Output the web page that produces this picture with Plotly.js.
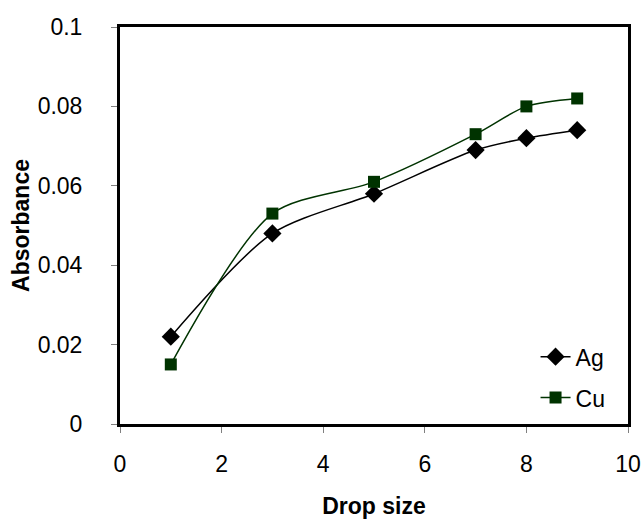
<!DOCTYPE html>
<html>
<head>
<meta charset="utf-8">
<script src="https://cdn.plot.ly/plotly-3.0.1.min.js"></script>
<style>html,body{margin:0;padding:0;background:#fff;}#chart{width:641px;height:519px;}</style>
</head>
<body>
<div id="chart"></div>
<script>
const dropSize = [1, 3, 5, 7, 8, 9];
const agValues = [0.022, 0.048, 0.058, 0.069, 0.072, 0.074];
const cuValues = [0.015, 0.053, 0.061, 0.073, 0.080, 0.082];
const xTicks = [0, 2, 4, 6, 8, 10];
const yTicks = [0, 0.02, 0.04, 0.06, 0.08, 0.1];
const yTickText = ['0', '0.02', '0.04', '0.06', '0.08', '0.1'];

const font = 'Liberation Sans, Arial, sans-serif';

const traces = [
  {
    x: dropSize, y: agValues, name: 'Ag', type: 'scatter', mode: 'lines+markers',
    legendgroup: 'ag',
    line: {color: '#000000', width: 1.5, shape: 'spline', smoothing: 0.8},
    marker: {symbol: 'diamond', size: 14, color: '#000000'}
  },
  {
    x: dropSize, y: cuValues, name: 'Cu', type: 'scatter', mode: 'lines+markers',
    legendgroup: 'cu',
    line: {color: '#003300', width: 1.5, shape: 'spline', smoothing: 0.8},
    marker: {symbol: 'square', size: 12, color: '#003300'}
  }
];

const layout = {
  width: 641, height: 519,
  margin: {l: 120, r: 13, t: 27, b: 95},
  paper_bgcolor: '#ffffff', plot_bgcolor: '#ffffff',
  font: {family: font, size: 23, color: '#000'},
  showlegend: true,
  legend: {
    x: 0.818, y: 0.012, xanchor: 'left', yanchor: 'bottom',
    bgcolor: 'rgba(0,0,0,0)', font: {family: font, size: 23, color: '#000'},
    traceorder: 'grouped', tracegroupgap: 8
  },
  xaxis: {
    range: [0, 10], tickvals: xTicks, ticktext: xTicks.map(String),
    showline: true, linecolor: '#000', linewidth: 3, mirror: true,
    ticks: 'outside', ticklen: 6, tickcolor: '#808080', tickwidth: 1,
    ticklabelstandoff: 11,
    showgrid: false, zeroline: false,
    tickfont: {family: font, size: 23, color: '#000'},
    title: {text: '<b>Drop size</b>', font: {family: font, size: 23, color: '#000'}, standoff: 25}
  },
  yaxis: {
    range: [0, 0.1], tickvals: yTicks, ticktext: yTickText,
    showline: true, linecolor: '#000', linewidth: 3, mirror: true,
    ticks: 'outside', ticklen: 6, tickcolor: '#808080', tickwidth: 1,
    ticklabelstandoff: 24,
    showgrid: false, zeroline: false,
    tickfont: {family: font, size: 23, color: '#000'},
    title: {text: '<b>Absorbance</b>', font: {family: font, size: 23, color: '#000'}, standoff: 2}
  }
};

Plotly.newPlot('chart', traces, layout, {displayModeBar: false, staticPlot: true});
</script>
</body>
</html>
